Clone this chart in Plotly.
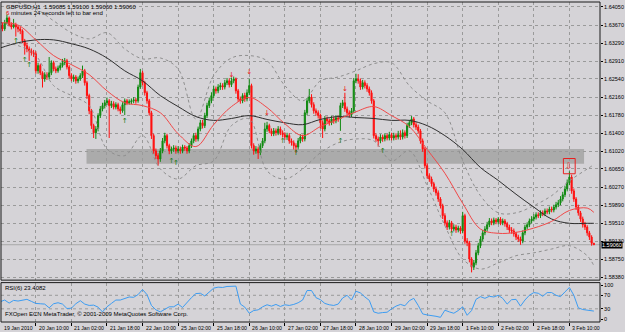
import plotly.graph_objects as go

# ---------------- data ----------------
header_text = "GBPUSD,H1  1.59085 1.59100 1.59060 1.59060"
timer_text = "minutes 24 seconds left to bar end"
rsi_text = "RSI(6) 23.4082"
copyright_text = "FXOpen ECN MetaTrader, \u00a9 2001-2009 MetaQuotes Software Corp."

first_open = 1.6360
closes = [
    1.6366, 1.6359, 1.6372, 1.6382, 1.6368, 1.6363, 1.6368, 1.6363, 1.6359, 1.6355,
    1.6334, 1.6324, 1.6317, 1.6313, 1.6309, 1.6307, 1.6271, 1.6282, 1.6267, 1.6254,
    1.6263, 1.6258, 1.6267, 1.6288, 1.6275, 1.6271, 1.6277, 1.6282, 1.6288, 1.6292,
    1.6279, 1.6261, 1.6254, 1.6258, 1.6250, 1.6254, 1.6261, 1.6271, 1.6246, 1.6219,
    1.6187, 1.6156, 1.6141, 1.6149, 1.6177, 1.6191, 1.6198, 1.6204, 1.6208, 1.6198,
    1.6202, 1.6195, 1.6200, 1.6191, 1.6187, 1.6200, 1.6208, 1.6204, 1.6206, 1.6208,
    1.6210, 1.6208, 1.6237, 1.6267, 1.6246, 1.6225, 1.6208, 1.6183, 1.6135, 1.6103,
    1.6093, 1.6086, 1.6103, 1.6124, 1.6135, 1.6114, 1.6103, 1.6107, 1.6109, 1.6103,
    1.6107, 1.6103, 1.6111, 1.6109, 1.6103, 1.6114, 1.6124, 1.6135, 1.6128, 1.6149,
    1.6162, 1.6156, 1.6177, 1.6198, 1.6208, 1.6219, 1.6233, 1.6229, 1.6237, 1.6240,
    1.6237, 1.6246, 1.6250, 1.6242, 1.6250, 1.6254, 1.6229, 1.6212, 1.6208, 1.6219,
    1.6212, 1.6225, 1.6240, 1.6114, 1.6103, 1.6107, 1.6099, 1.6114, 1.6124, 1.6149,
    1.6156, 1.6145, 1.6139, 1.6145, 1.6141, 1.6149, 1.6141, 1.6137, 1.6132, 1.6135,
    1.6124, 1.6120, 1.6114, 1.6111, 1.6124, 1.6132, 1.6128, 1.6183, 1.6208, 1.6216,
    1.6200, 1.6187, 1.6183, 1.6177, 1.6162, 1.6149, 1.6170, 1.6166, 1.6162, 1.6170,
    1.6166, 1.6172, 1.6170, 1.6198, 1.6204, 1.6191, 1.6183, 1.6179, 1.6187, 1.6250,
    1.6254, 1.6250, 1.6237, 1.6246, 1.6240, 1.6233, 1.6225, 1.6208, 1.6135, 1.6128,
    1.6124, 1.6132, 1.6128, 1.6135, 1.6130, 1.6137, 1.6130, 1.6135, 1.6132, 1.6137,
    1.6132, 1.6141, 1.6135, 1.6156, 1.6162, 1.6170, 1.6158, 1.6153, 1.6145, 1.6124,
    1.6107, 1.6072, 1.6051, 1.6044, 1.6034, 1.6023, 1.6015, 1.6002, 1.5988, 1.5967,
    1.5952, 1.5943, 1.5952, 1.5939, 1.5943, 1.5937, 1.5941, 1.5935, 1.5967, 1.5914,
    1.5910, 1.5876, 1.5859, 1.5868, 1.5889, 1.5904, 1.5918, 1.5931, 1.5939, 1.5948,
    1.5956, 1.5952, 1.5958, 1.5954, 1.5960, 1.5952, 1.5956, 1.5950, 1.5943, 1.5937,
    1.5935, 1.5929, 1.5922, 1.5918, 1.5914, 1.5931, 1.5943, 1.5948, 1.5956, 1.5960,
    1.5964, 1.5969, 1.5967, 1.5973, 1.5971, 1.5977, 1.5975, 1.5981, 1.5979, 1.5985,
    1.5990, 1.5994, 1.6002, 1.6011, 1.6023, 1.6036, 1.6048, 1.6019, 1.6002, 1.5985,
    1.5973, 1.5960, 1.5948, 1.5943, 1.5931, 1.5922, 1.5909, 1.5906,
]
highs = [
    1.6370, 1.6372, 1.6378, 1.6389, 1.6385, 1.6373, 1.6380, 1.6372, 1.6367, 1.6364,
    1.6358, 1.6338, 1.6330, 1.6322, 1.6318, 1.6315, 1.6312, 1.6288, 1.6286, 1.6270,
    1.6268, 1.6268, 1.6300, 1.6293, 1.6292, 1.6280, 1.6282, 1.6288, 1.6296, 1.6298,
    1.6296, 1.6283, 1.6266, 1.6263, 1.6262, 1.6259, 1.6266, 1.6282, 1.6275, 1.6250,
    1.6223, 1.6191, 1.6160, 1.6155, 1.6182, 1.6197, 1.6204, 1.6210, 1.6215, 1.6212,
    1.6208, 1.6207, 1.6205, 1.6204, 1.6196, 1.6205, 1.6213, 1.6212, 1.6211, 1.6213,
    1.6216, 1.6214, 1.6242, 1.6275, 1.6271, 1.6250, 1.6229, 1.6212, 1.6187, 1.6139,
    1.6108, 1.6098, 1.6109, 1.6130, 1.6141, 1.6139, 1.6118, 1.6112, 1.6115, 1.6114,
    1.6113, 1.6112, 1.6116, 1.6115, 1.6113, 1.6119, 1.6129, 1.6140, 1.6141, 1.6154,
    1.6168, 1.6168, 1.6183, 1.6204, 1.6215, 1.6226, 1.6240, 1.6238, 1.6243, 1.6246,
    1.6245, 1.6252, 1.6256, 1.6255, 1.6257, 1.6259, 1.6257, 1.6233, 1.6217, 1.6224,
    1.6225, 1.6232, 1.6254, 1.6244, 1.6119, 1.6113, 1.6112, 1.6119, 1.6130, 1.6162,
    1.6164, 1.6160, 1.6150, 1.6151, 1.6150, 1.6155, 1.6154, 1.6146, 1.6142, 1.6141,
    1.6140, 1.6129, 1.6125, 1.6119, 1.6130, 1.6138, 1.6137, 1.6189, 1.6214, 1.6233,
    1.6222, 1.6205, 1.6192, 1.6188, 1.6181, 1.6167, 1.6176, 1.6175, 1.6171, 1.6176,
    1.6175, 1.6178, 1.6177, 1.6204, 1.6210, 1.6225, 1.6196, 1.6188, 1.6193, 1.6256,
    1.6265, 1.6264, 1.6255, 1.6252, 1.6251, 1.6245, 1.6238, 1.6230, 1.6212, 1.6140,
    1.6133, 1.6138, 1.6137, 1.6140, 1.6139, 1.6143, 1.6141, 1.6141, 1.6140, 1.6145,
    1.6146, 1.6148, 1.6146, 1.6162, 1.6168, 1.6176, 1.6174, 1.6163, 1.6158, 1.6149,
    1.6129, 1.6111, 1.6077, 1.6056, 1.6049, 1.6038, 1.6028, 1.6020, 1.6006, 1.5992,
    1.5972, 1.5957, 1.5958, 1.5956, 1.5949, 1.5948, 1.5946, 1.5945, 1.5975, 1.5971,
    1.5920, 1.5914, 1.5880, 1.5874, 1.5895, 1.5910, 1.5924, 1.5937, 1.5945, 1.5954,
    1.5962, 1.5961, 1.5963, 1.5962, 1.5964, 1.5964, 1.5961, 1.5960, 1.5954, 1.5948,
    1.5943, 1.5940, 1.5933, 1.5927, 1.5923, 1.5936, 1.5948, 1.5953, 1.5961, 1.5966,
    1.5970, 1.5974, 1.5974, 1.5978, 1.5978, 1.5982, 1.5982, 1.5986, 1.5986, 1.5990,
    1.5996, 1.6000, 1.6008, 1.6017, 1.6030, 1.6043, 1.6060, 1.6053, 1.6024, 1.6006,
    1.5990, 1.5977, 1.5965, 1.5954, 1.5947, 1.5935, 1.5926, 1.5910,
]
lows = [
    1.6356, 1.6354, 1.6355, 1.6368, 1.6364, 1.6358, 1.6360, 1.6343, 1.6352, 1.6348,
    1.6329, 1.6305, 1.6310, 1.6292, 1.6303, 1.6300, 1.6265, 1.6265, 1.6262, 1.6236,
    1.6248, 1.6252, 1.6253, 1.6262, 1.6270, 1.6266, 1.6267, 1.6272, 1.6278, 1.6283,
    1.6274, 1.6255, 1.6249, 1.6248, 1.6244, 1.6245, 1.6250, 1.6256, 1.6240, 1.6212,
    1.6180, 1.6149, 1.6130, 1.6128, 1.6144, 1.6172, 1.6186, 1.6192, 1.6199, 1.6130,
    1.6193, 1.6190, 1.6190, 1.6186, 1.6180, 1.6183, 1.6178, 1.6199, 1.6200, 1.6201,
    1.6203, 1.6202, 1.6204, 1.6233, 1.6240, 1.6219, 1.6202, 1.6177, 1.6128, 1.6097,
    1.6086, 1.6072, 1.6080, 1.6098, 1.6119, 1.6108, 1.6096, 1.6097, 1.6101, 1.6097,
    1.6098, 1.6097, 1.6098, 1.6103, 1.6097, 1.6098, 1.6109, 1.6119, 1.6122, 1.6123,
    1.6144, 1.6150, 1.6151, 1.6172, 1.6193, 1.6203, 1.6214, 1.6223, 1.6224, 1.6231,
    1.6231, 1.6232, 1.6241, 1.6236, 1.6237, 1.6245, 1.6223, 1.6206, 1.6202, 1.6203,
    1.6206, 1.6207, 1.6220, 1.6108, 1.6095, 1.6097, 1.6086, 1.6094, 1.6109, 1.6119,
    1.6143, 1.6140, 1.6134, 1.6134, 1.6135, 1.6136, 1.6136, 1.6131, 1.6126, 1.6126,
    1.6118, 1.6114, 1.6106, 1.6099, 1.6106, 1.6119, 1.6122, 1.6123, 1.6178, 1.6203,
    1.6194, 1.6181, 1.6177, 1.6171, 1.6150, 1.6130, 1.6144, 1.6160, 1.6156, 1.6157,
    1.6160, 1.6161, 1.6164, 1.6145, 1.6193, 1.6185, 1.6177, 1.6173, 1.6174, 1.6182,
    1.6245, 1.6244, 1.6231, 1.6232, 1.6234, 1.6227, 1.6219, 1.6202, 1.6129, 1.6122,
    1.6112, 1.6119, 1.6122, 1.6123, 1.6125, 1.6125, 1.6125, 1.6125, 1.6126, 1.6127,
    1.6126, 1.6127, 1.6129, 1.6130, 1.6151, 1.6157, 1.6152, 1.6147, 1.6139, 1.6118,
    1.6101, 1.6066, 1.6045, 1.6038, 1.6028, 1.6017, 1.6009, 1.5996, 1.5982, 1.5960,
    1.5946, 1.5937, 1.5938, 1.5933, 1.5934, 1.5931, 1.5932, 1.5929, 1.5930, 1.5908,
    1.5903, 1.5869, 1.5848, 1.5853, 1.5863, 1.5884, 1.5899, 1.5913, 1.5926, 1.5934,
    1.5943, 1.5947, 1.5947, 1.5949, 1.5949, 1.5947, 1.5947, 1.5944, 1.5937, 1.5931,
    1.5929, 1.5923, 1.5916, 1.5912, 1.5906, 1.5909, 1.5926, 1.5938, 1.5943, 1.5951,
    1.5955, 1.5959, 1.5962, 1.5962, 1.5966, 1.5966, 1.5970, 1.5970, 1.5974, 1.5974,
    1.5980, 1.5985, 1.5989, 1.5997, 1.6006, 1.6018, 1.6031, 1.6013, 1.5996, 1.5979,
    1.5967, 1.5954, 1.5942, 1.5937, 1.5925, 1.5916, 1.5904, 1.5906,
]
opens = [first_open] + closes[:-1]
bars = list(range(len(closes)))

# indicator lines, sampled every 8 bars (+ last bar)
ind_bars = list(range(0, 265, 8)) + [267]
ma_fast = [1.6372, 1.6367, 1.6336, 1.6303, 1.6284, 1.6263, 1.6229, 1.6204, 1.6198, 1.6183,
           1.6139, 1.6112, 1.6158, 1.6196, 1.6215, 1.6194, 1.6160, 1.6135, 1.6154, 1.6169,
           1.6185, 1.6196, 1.6177, 1.6154, 1.6106, 1.6056, 1.5993, 1.5939, 1.5930, 1.5932,
           1.5941, 1.5955, 1.5978, 1.5983, 1.5974]
ma_slow = [1.6319, 1.6330, 1.6336, 1.6336, 1.6328, 1.6317, 1.6298, 1.6271, 1.6250, 1.6219,
           1.6196, 1.6175, 1.6167, 1.6171, 1.6177, 1.6169, 1.6162, 1.6158, 1.6169, 1.6175,
           1.6173, 1.6171, 1.6167, 1.6167, 1.6156, 1.6135, 1.6106, 1.6068, 1.6041, 1.6012,
           1.5985, 1.5960, 1.5951, 1.5951, 1.5951]
bb_upper = [1.6418, 1.6414, 1.6401, 1.6376, 1.6351, 1.6338, 1.6351, 1.6317, 1.6296, 1.6298,
            1.6275, 1.6170, 1.6261, 1.6298, 1.6303, 1.6292, 1.6240, 1.6208, 1.6250, 1.6258,
            1.6271, 1.6286, 1.6288, 1.6240, 1.6208, 1.6183, 1.6082, 1.6009, 1.5973, 1.5973,
            1.5988, 1.6009, 1.6040, 1.6065, 1.6074]
bb_lower = [1.6330, 1.6324, 1.6303, 1.6240, 1.6219, 1.6198, 1.6107, 1.6093, 1.6135, 1.6065,
            1.6044, 1.6072, 1.6082, 1.6156, 1.6170, 1.6061, 1.6044, 1.6065, 1.6099, 1.6120,
            1.6128, 1.6124, 1.6082, 1.6103, 1.6030, 1.5946, 1.5876, 1.5855, 1.5868, 1.5883,
            1.5889, 1.5897, 1.5904, 1.5883, 1.5862]

# RSI(6), sampled every 2 bars (+ last bar)
rsi_bars = list(range(0, 268, 2)) + [267]
rsi_values = [51, 56, 47, 55, 53, 56, 58, 52, 46, 45,
              44, 33, 45, 48, 44, 31, 32, 45, 54, 44,
              40, 41, 35, 21, 36, 46, 56, 56, 60, 65,
              64, 72, 87, 72, 40, 27, 21, 28, 36, 36,
              44, 34, 50, 63, 75, 76, 68, 81, 91, 94,
              93, 96, 96, 97, 44, 35, 17, 25, 27, 36,
              42, 38, 43, 37, 42, 40, 43, 48, 56, 84,
              84, 63, 57, 46, 42, 40, 44, 62, 70, 56,
              82, 77, 65, 55, 21, 17, 19, 20, 30, 38,
              43, 39, 54, 61, 40, 15, 12, 11, 8, 5,
              26, 21, 17, 25, 36, 11, 25, 58, 66, 61,
              67, 65, 70, 61, 44, 57, 58, 38, 56, 70,
              78, 76, 67, 78, 78, 70, 66, 80, 93, 70,
              33, 28, 26, 24, 23.4082]

# fractal arrows
up_bars = [7, 11, 13, 56, 77, 79, 127, 133, 153, 172, 203]
up_prices = [1.6334, 1.6294, 1.6282, 1.6166, 1.6082, 1.6078, 1.6124, 1.6099, 1.6124, 1.6103, 1.5927]
dn_bars = [104, 112, 120, 155]
dn_prices = [1.6261, 1.6267, 1.6183, 1.6233]
signal_bar, signal_price = 256, 1.6071

# time axis labels (every 16 H1 bars)
time_label_bars = list(range(0, 257, 16))
time_labels = ["19 Jan 2010", "20 Jan 10:00", "21 Jan 02:00", "21 Jan 18:00", "22 Jan 10:00",
               "25 Jan 02:00", "25 Jan 18:00", "26 Jan 10:00", "27 Jan 02:00", "27 Jan 18:00",
               "28 Jan 10:00", "29 Jan 02:00", "29 Jan 18:00", "1 Feb 10:00", "2 Feb 02:00",
               "2 Feb 18:00", "3 Feb 10:00"]
price_ticks = [1.64050, 1.63670, 1.63290, 1.62910, 1.62540, 1.62160, 1.61780, 1.61400,
               1.61020, 1.60650, 1.60270, 1.59890, 1.59510, 1.59130, 1.58750, 1.58380]
rsi_ticks = [0, 30, 70, 100]
rsi_levels = [30, 70]

# ---------------- layout geometry ----------------
W, H = 625, 332
PL, PR, PT, PB = 1, 603, 1, 322
MAIN_BOTTOM, RSI_TOP = 280, 282.5
bar_x0, bar_dx = 0.25, 35.75 / 16
ppu = (277 - 6) / (1.64050 - 1.58380)
rsi_ppu = (319 - 285) / 100.0


def pyp(py):
    return (PB - py) / (PB - PT)


def pxp(px):
    return (px - PL) / (PR - PL)


x_range = [(PL - bar_x0) / bar_dx, (PR - bar_x0) / bar_dx]
y_range = [1.58380 - (MAIN_BOTTOM - 277) / ppu, 1.64050 + (6 - PT) / ppu]
rsi_range = [-(PB - 319) / rsi_ppu, 100 + (285 - RSI_TOP) / rsi_ppu]

BG = "#D5D3D7"
GRID = "#9A9A9A"
FONT = "Liberation Sans, Arial, sans-serif"
UP = "#118A11"
DN = "#FF1010"

fig = go.Figure()

fig.add_trace(go.Candlestick(
    x=bars, open=opens, high=highs, low=lows, close=closes,
    increasing=dict(line=dict(color=UP, width=1), fillcolor=UP),
    decreasing=dict(line=dict(color=DN, width=1), fillcolor=DN),
    whiskerwidth=0, hoverinfo="skip", xaxis="x", yaxis="y"))

for band in (bb_upper, bb_lower):
    fig.add_trace(go.Scatter(x=ind_bars, y=band, mode="lines", hoverinfo="skip",
                             line=dict(color="#8E8E8E", width=1, dash="dot", shape="spline"),
                             xaxis="x", yaxis="y"))
fig.add_trace(go.Scatter(x=ind_bars, y=ma_slow, mode="lines", hoverinfo="skip",
                         line=dict(color="#2E2E2E", width=1, shape="spline"), xaxis="x", yaxis="y"))
fig.add_trace(go.Scatter(x=ind_bars, y=ma_fast, mode="lines", hoverinfo="skip",
                         line=dict(color="#F04848", width=1, shape="spline"), xaxis="x", yaxis="y"))

fig.add_trace(go.Scatter(x=up_bars, y=up_prices, mode="text", text=["\u2191"] * len(up_bars),
                         textfont=dict(color="#0E7A0E", size=7, family="DejaVu Sans"),
                         hoverinfo="skip", xaxis="x", yaxis="y"))
fig.add_trace(go.Scatter(x=dn_bars, y=dn_prices, mode="text", text=["\u2193"] * len(dn_bars),
                         textfont=dict(color="#E81010", size=7, family="DejaVu Sans"),
                         hoverinfo="skip", xaxis="x", yaxis="y"))

fig.add_trace(go.Scatter(x=rsi_bars, y=rsi_values, mode="lines", hoverinfo="skip",
                         line=dict(color="#3C9CF2", width=1), xaxis="x", yaxis="y2"))

shapes = [
    # support zone
    dict(type="rect", xref="x", yref="y", x0=38.8, x1=262.6, y0=1.6076, y1=1.6107,
         fillcolor="#ABABAB", line=dict(width=0), layer="below"),
    # bid line
    dict(type="line", xref="paper", yref="y", x0=0, x1=1, y0=closes[-1], y1=closes[-1],
         line=dict(color="#A8A8A8", width=1), layer="below"),
    # signal box
    dict(type="rect", xref="x", yref="y", x0=signal_bar - 2.7, x1=signal_bar + 2.6,
         y0=1.6055, y1=1.6087, line=dict(color="#E82020", width=1)),
    # panel frames
    dict(type="rect", xref="paper", yref="paper", x0=0, x1=1, y0=pyp(MAIN_BOTTOM), y1=1,
         line=dict(color="#1A1A1A", width=1)),
    dict(type="rect", xref="paper", yref="paper", x0=0, x1=1, y0=0, y1=pyp(RSI_TOP),
         line=dict(color="#1A1A1A", width=1)),
]
for lv in rsi_levels:
    shapes.append(dict(type="line", xref="paper", yref="y2", x0=0, x1=1, y0=lv, y1=lv,
                       line=dict(color=GRID, width=1, dash="dot"), layer="below"))

small = dict(family=FONT, size=6, color="#000000")
annotations = [
    dict(text=header_text, x=pxp(4), y=pyp(6), xref="paper", yref="paper",
         xanchor="left", yanchor="middle", showarrow=False, font=small),
    dict(text="<span style='color:#E00000'>6</span> " + timer_text, x=pxp(4), y=pyp(12.5),
         xref="paper", yref="paper", xanchor="left", yanchor="middle", showarrow=False, font=small),
    dict(text=rsi_text, x=pxp(3), y=pyp(287.5), xref="paper", yref="paper",
         xanchor="left", yanchor="middle", showarrow=False, font=small),
    dict(text=copyright_text, x=pxp(3), y=pyp(314), xref="paper", yref="paper",
         xanchor="left", yanchor="middle", showarrow=False, font=small),
    dict(text="\u21e9", x=signal_bar, y=signal_price, xref="x", yref="y", showarrow=False,
         font=dict(family="DejaVu Sans", size=9, color="#E83030")),
    dict(text=f"{closes[-1]:.5f}", x=1, y=closes[-1], xref="paper", yref="y",
         xanchor="left", yanchor="middle", xshift=1, showarrow=False, bgcolor="#000000",
         borderpad=0, font=dict(family=FONT, size=5.5, color="#FFFFFF")),
]
for b, lab in zip(time_label_bars, time_labels):
    px = max(bar_x0 + bar_dx * b, PL)
    annotations.append(dict(text=lab, x=pxp(px), y=pyp(323.5), xref="paper", yref="paper",
                            xanchor="left", yanchor="top", xshift=1, showarrow=False,
                            font=dict(family=FONT, size=5.2, color="#000000")))

fig.update_layout(
    width=W, height=H, margin=dict(l=PL, r=W - PR, t=PT, b=H - PB, pad=0),
    paper_bgcolor=BG, plot_bgcolor=BG, showlegend=False, hovermode=False,
    shapes=shapes, annotations=annotations,
    xaxis=dict(range=x_range, tickvals=list(range(16, 257, 16)), showticklabels=False,
               showgrid=True, gridcolor=GRID, griddash="dot", gridwidth=1,
               ticks="outside", ticklen=3, tickcolor="#000000", zeroline=False,
               showline=False, anchor="y2", rangeslider=dict(visible=False)),
    yaxis=dict(domain=[pyp(MAIN_BOTTOM), 1], range=y_range, side="right", anchor="x",
               tickvals=price_ticks, ticktext=[f"{v:.5f}" for v in price_ticks],
               showgrid=True, gridcolor=GRID, griddash="dot", gridwidth=1,
               ticks="outside", ticklen=2, tickcolor="#000000", zeroline=False,
               tickfont=dict(family=FONT, size=5.5, color="#000000")),
    yaxis2=dict(domain=[0, pyp(RSI_TOP)], range=rsi_range, side="right", anchor="x",
                tickvals=rsi_ticks, ticktext=[str(v) for v in rsi_ticks], showgrid=False,
                ticks="outside", ticklen=2, tickcolor="#000000", zeroline=False,
                tickfont=dict(family=FONT, size=5.5, color="#000000")),
)

fig.write_html("out.html")
